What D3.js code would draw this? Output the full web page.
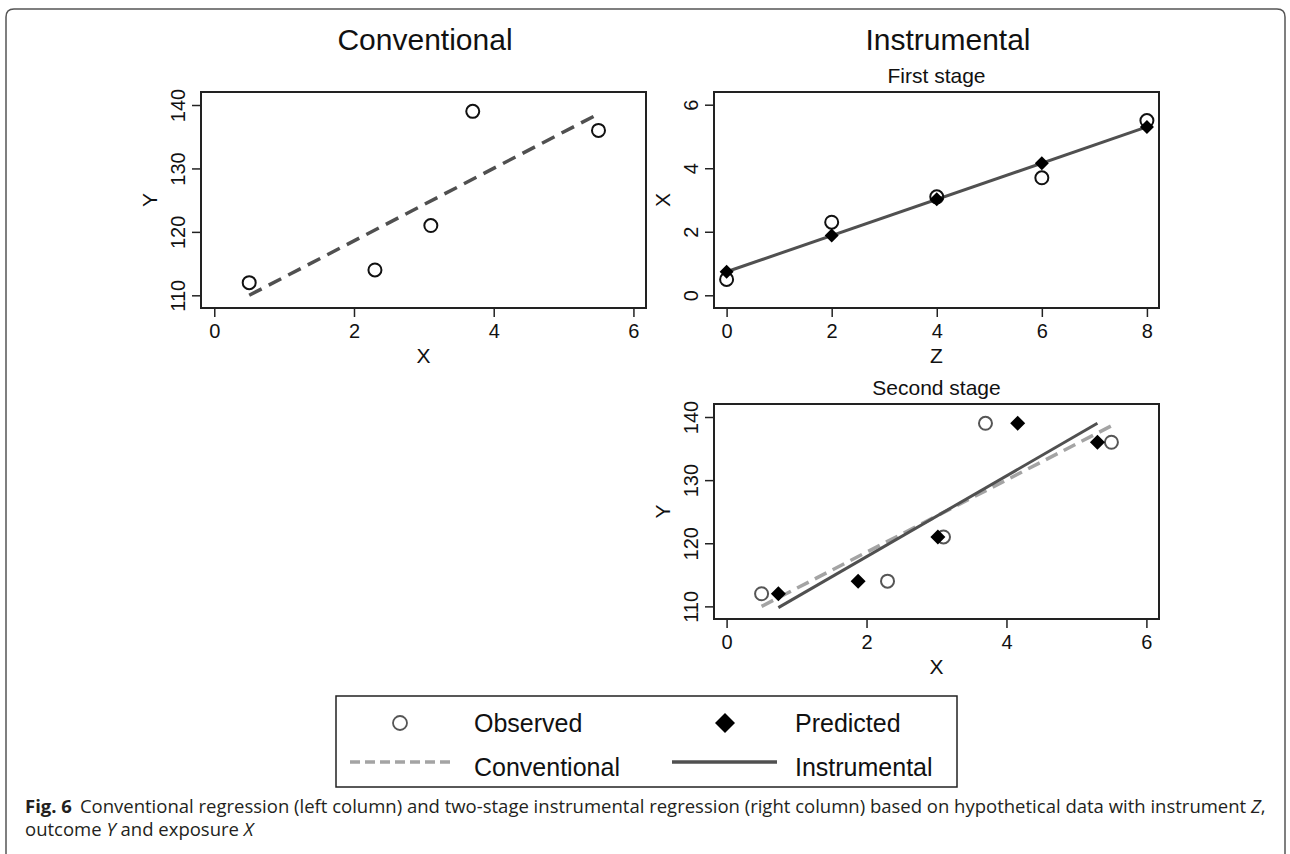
<!DOCTYPE html>
<html>
<head>
<meta charset="utf-8">
<script src="https://cdn.jsdelivr.net/npm/d3@7"></script>
<style>
body{margin:0;background:#fff;}
svg{display:block;}
</style>
</head>
<body>
<div id="fig"></div>
<script>
(function(){

// data
const obsX = [0.5, 2.3, 3.1, 3.7, 5.5];
const obsY = [112, 114, 121, 139, 136];
const instZ = [0, 2, 4, 6, 8];
const predX = [0.74, 1.88, 3.02, 4.16, 5.30];

// fitted line end points
const convFitX = [0.5, 5.5];
const convFitY = [110.0, 138.6];
const firstFitZ = [0, 8];
const firstFitX = [0.74, 5.30];
const ivFitX = [0.74, 5.30];
const ivFitY = [109.8, 139.0];

// ticks
const xTicks = [0, 2, 4, 6];
const zTicks = [0, 2, 4, 6, 8];
const yTicks = [110, 120, 130, 140];
const firstTicks = [0, 2, 4, 6];

const legendItems = ["Observed", "Predicted", "Conventional", "Instrumental"];

const width = 1290;
const height = 854;
const font = "'Liberation Sans', Arial, sans-serif";

const svg = d3.select("#fig")
.append("svg")
.attr("width", width)
.attr("height", height);

// outer frame
svg.append("path")
.attr("d", "M6,862 L6,17 Q6,9 14,9 L1277,9 Q1285,9 1285,17 L1285,862")
.attr("fill", "none")
.attr("stroke", "#555")
.attr("stroke-width", 1.5);

const pts = (xs, ys) => xs.map((v, i) => ({x: v, y: ys[i]}));

function panel(o){
  const x = d3.scaleLinear().domain(o.xDomain).range([o.left, o.right]);
  const y = d3.scaleLinear().domain(o.yDomain).range([o.bottom, o.top]);
  const g = svg.append("g");

  g.append("rect")
  .attr("x", o.left).attr("y", o.top)
  .attr("width", o.right - o.left).attr("height", o.bottom - o.top)
  .attr("fill", "none").attr("stroke", "#222").attr("stroke-width", 2);

  const ax = g.append("g")
  .attr("transform", `translate(0,${o.bottom})`)
  .call(d3.axisBottom(x).tickValues(o.xTicks).tickSize(9).tickPadding(7).tickFormat(d3.format("d")));
  ax.select(".domain").remove();
  ax.selectAll("line").attr("stroke", "#222").attr("stroke-width", 1.5);
  ax.selectAll("text").attr("font-family", font).attr("font-size", 20).attr("fill", "#111");

  const ay = g.append("g")
  .attr("transform", `translate(${o.left},0)`)
  .call(d3.axisLeft(y).tickValues(o.yTicks).tickSize(9).tickFormat(d3.format("d")));
  ay.select(".domain").remove();
  ay.selectAll("line").attr("stroke", "#222").attr("stroke-width", 1.5);
  ay.selectAll("text")
  .attr("transform", "rotate(-90)")
  .attr("x", 0).attr("y", -16).attr("dy", 0)
  .attr("text-anchor", "middle")
  .attr("font-family", font).attr("font-size", 20).attr("fill", "#111");

  // axis titles
  g.append("text")
  .attr("x", (o.left + o.right) / 2).attr("y", o.bottom + 55)
  .attr("text-anchor", "middle")
  .attr("font-family", font).attr("font-size", 21).attr("fill", "#111")
  .text(o.xLabel);

  g.append("text")
  .attr("transform", `translate(${o.left - 44},${(o.top + o.bottom) / 2}) rotate(-90)`)
  .attr("text-anchor", "middle")
  .attr("font-family", font).attr("font-size", 21).attr("fill", "#111")
  .text(o.yLabel);

  if(o.title){
    g.append("text")
    .attr("x", (o.left + o.right) / 2).attr("y", o.top - 9)
    .attr("text-anchor", "middle")
    .attr("font-family", font).attr("font-size", 21).attr("fill", "#111")
    .text(o.title);
  }

  const line = d3.line().x(d => x(d.x)).y(d => y(d.y));
  (o.lines || []).forEach(l => {
    g.append("path")
    .datum(l.data)
    .attr("fill", "none")
    .attr("stroke", l.color)
    .attr("stroke-width", l.width)
    .attr("stroke-dasharray", l.dash || null)
    .attr("d", line);
  });

  (o.circles || []).forEach(c => {
    g.selectAll(null)
    .data(c.data)
    .enter().append("circle")
    .attr("cx", d => x(d.x)).attr("cy", d => y(d.y))
    .attr("r", 6.5)
    .attr("fill", "none")
    .attr("stroke", c.color)
    .attr("stroke-width", 2);
  });

  (o.diamonds || []).forEach(c => {
    g.selectAll(null)
    .data(c.data)
    .enter().append("path")
    .attr("transform", d => `translate(${x(d.x)},${y(d.y)})`)
    .attr("d", `M0,${-c.size}L${c.size},0L0,${c.size}L${-c.size},0Z`)
    .attr("fill", "#000");
  });
}

// left column: conventional
panel({
  left: 201, right: 646, top: 92, bottom: 308,
  xDomain: [-0.19, 6.18], yDomain: [108.0, 142.05],
  xTicks: xTicks, yTicks: yTicks,
  xLabel: "X", yLabel: "Y",
  lines: [{data: pts(convFitX, convFitY), color: "#505050", width: 3.5, dash: "14,8"}],
  circles: [{data: pts(obsX, obsY), color: "#111"}]
});

// right column: first stage
panel({
  left: 714, right: 1159, top: 92, bottom: 308,
  xDomain: [-0.24, 8.23], yDomain: [-0.40, 6.40],
  xTicks: zTicks, yTicks: firstTicks,
  xLabel: "Z", yLabel: "X", title: "First stage",
  circles: [{data: pts(instZ, obsX), color: "#111"}],
  lines: [{data: pts(firstFitZ, firstFitX), color: "#505050", width: 3}],
  diamonds: [{data: pts(instZ, predX), size: 7}]
});

// right column: second stage
panel({
  left: 714, right: 1159, top: 404, bottom: 619,
  xDomain: [-0.18, 6.18], yDomain: [108.0, 142.06],
  xTicks: xTicks, yTicks: yTicks,
  xLabel: "X", yLabel: "Y", title: "Second stage",
  circles: [{data: pts(obsX, obsY), color: "#555"}],
  lines: [
    {data: pts(convFitX, convFitY), color: "#a4a4a4", width: 3.5, dash: "13,7"},
    {data: pts(ivFitX, ivFitY), color: "#505050", width: 3}
  ],
  diamonds: [{data: pts(predX, obsY), size: 7.5}]
});

// column titles
svg.append("text")
.attr("x", 425).attr("y", 50)
.attr("text-anchor", "middle")
.attr("font-family", font).attr("font-size", 30).attr("fill", "#111")
.text("Conventional");

svg.append("text")
.attr("x", 948).attr("y", 50)
.attr("text-anchor", "middle")
.attr("font-family", font).attr("font-size", 30).attr("fill", "#111")
.text("Instrumental");

// legend
const lg = svg.append("g");
lg.append("rect")
.attr("x", 336).attr("y", 696).attr("width", 621).attr("height", 91)
.attr("fill", "#fff").attr("stroke", "#222").attr("stroke-width", 1.5);

lg.append("circle")
.attr("cx", 400).attr("cy", 723).attr("r", 7)
.attr("fill", "none").attr("stroke", "#555").attr("stroke-width", 1.8);

lg.append("path")
.attr("transform", "translate(725,723)")
.attr("d", "M0,-10L10,0L0,10L-10,0Z")
.attr("fill", "#000");

lg.append("line")
.attr("x1", 350).attr("x2", 454).attr("y1", 762).attr("y2", 762)
.attr("stroke", "#a4a4a4").attr("stroke-width", 3.5).attr("stroke-dasharray", "10,5");

lg.append("line")
.attr("x1", 672).attr("x2", 777).attr("y1", 762).attr("y2", 762)
.attr("stroke", "#505050").attr("stroke-width", 3.5);

const legendPos = [[474, 732], [795, 732], [474, 776], [795, 776]];
legendItems.forEach((t, i) => {
  lg.append("text")
  .attr("x", legendPos[i][0]).attr("y", legendPos[i][1])
  .attr("font-family", font).attr("font-size", 25).attr("fill", "#111")
  .text(t);
});

// caption
const capFont = "'Open Sans', 'Noto Sans', sans-serif";
const c1 = svg.append("text")
.attr("x", 25).attr("y", 813)
.attr("font-family", capFont).attr("font-size", 18.5).attr("fill", "#231f20");
c1.append("tspan").attr("font-weight", "bold").text("Fig. 6");
c1.append("tspan").attr("dx", 8).text("Conventional regression (left column) and two-stage instrumental regression (right column) based on hypothetical data with instrument ");
c1.append("tspan").attr("font-style", "italic").text("Z");
c1.append("tspan").text(",");

const c2 = svg.append("text")
.attr("x", 25).attr("y", 836)
.attr("font-family", capFont).attr("font-size", 18.5).attr("fill", "#231f20");
c2.append("tspan").text("outcome ");
c2.append("tspan").attr("font-style", "italic").text("Y");
c2.append("tspan").text(" and exposure ");
c2.append("tspan").attr("font-style", "italic").text("X");

})();
</script>
</body>
</html>
